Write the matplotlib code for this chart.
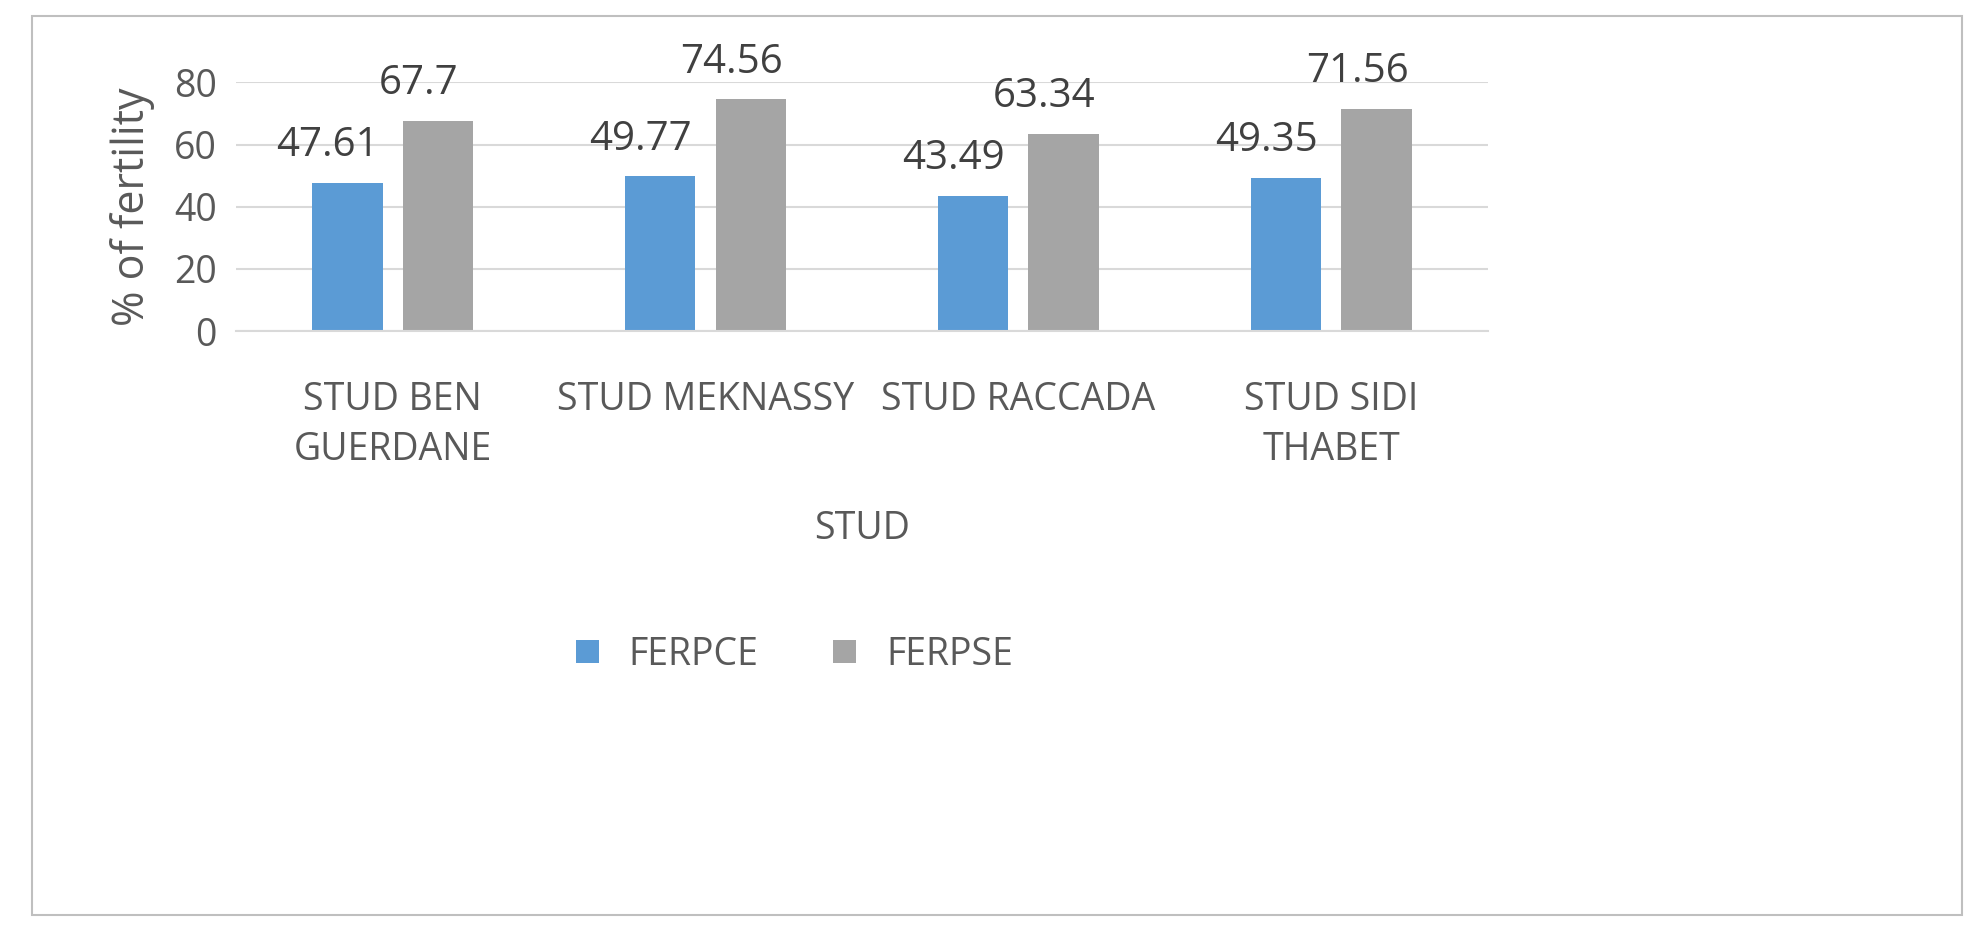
import matplotlib
matplotlib.use("Agg")
import matplotlib.pyplot as plt
from matplotlib.patches import Rectangle
import numpy as np

categories = ["STUD BEN\nGUERDANE", "STUD MEKNASSY", "STUD RACCADA", "STUD SIDI\nTHABET"]
ferpce = [47.61, 49.77, 43.49, 49.35]
ferpse = [67.7, 74.56, 63.34, 71.56]
labels_pce = ["47.61", "49.77", "43.49", "49.35"]
labels_pse = ["67.7", "74.56", "63.34", "71.56"]

plt.rcParams['font.family'] = ['Open Sans', 'DejaVu Sans']
fig = plt.figure(figsize=(19.86, 9.46), dpi=100)
fig.patches.append(Rectangle((0.016, 0.033), 0.972, 0.95, transform=fig.transFigure,
                             fill=False, edgecolor='#BFBFBF', lw=1.5))
ax = fig.add_axes([0.119, 0.65, 0.63, 0.263])
x = np.arange(len(categories))
w = 0.225
c1, c2 = '#5B9BD5', '#A5A5A5'
b1 = ax.bar(x - 0.145, ferpce, w, color=c1, label='FERPCE')
b2 = ax.bar(x + 0.145, ferpse, w, color=c2, label='FERPSE')
for bars, labs in ((b1, labels_pce), (b2, labels_pse)):
    for r, t in zip(bars, labs):
        ax.annotate(t, (r.get_x() + r.get_width() / 2, r.get_height()), xytext=(-14, 12),
                    textcoords='offset points', ha='center', va='bottom', fontsize=29, color='#404040')
ax.set_xlim(-0.5, 3.5)
ax.set_ylim(0, 80)
ax.set_yticks([0, 20, 40, 60, 80])
ax.yaxis.grid(True, color='#D9D9D9', lw=1.5)
ax.set_axisbelow(True)
for s in ['top', 'right', 'left']:
    ax.spines[s].set_visible(False)
ax.spines['bottom'].set_color('#D9D9D9')
ax.spines['bottom'].set_linewidth(1.5)
ax.tick_params(length=0, labelsize=27, colors='#595959', pad=14)
ax.tick_params(axis='x', pad=36)
ax.set_xticks(x)
ax.set_xticklabels(categories, linespacing=1.4)
ax.set_ylabel('% of fertility', fontsize=31, color='#595959', labelpad=14)
ax.set_xlabel('STUD', fontsize=27, color='#595959', labelpad=30)
fig.legend(handles=[b1, b2], loc='center', bbox_to_anchor=(0.4, 0.308), ncol=2, frameon=False,
           fontsize=27, labelcolor='#595959', handlelength=0.6, handleheight=0.6, columnspacing=2)
fig.savefig('out.png', dpi=100)
